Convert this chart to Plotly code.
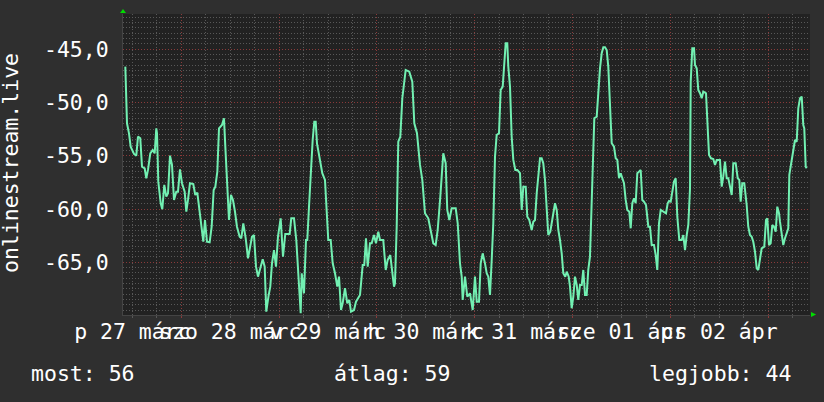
import plotly.graph_objects as go
import pandas as pd

# ---- data (hours after 2020-03-28 00:00, value) ----
hours_since_mar28 = [
    -13.73, -13.57, -13.32, -12.83, -12.42, -11.60, -11.04, -10.62, -10.06, -9.64,
    -8.98, -8.59, -8.17, -7.60, -7.02, -6.53, -6.13, -5.96, -5.64, -5.05,
    -4.66, -4.17, -3.68, -3.26, -2.77, -2.28, -1.79, -1.23, -0.81, -0.32,
    0.17, 0.83, 1.23, 1.64, 2.13, 2.94, 3.43, 3.93, 4.42, 4.91,
    5.40, 5.81, 6.30, 6.96, 7.45, 7.94, 8.35, 8.84, 9.25, 9.98,
    10.47, 10.80, 11.21, 11.70, 12.19, 12.68, 13.17, 13.66, 14.32, 14.72,
    15.21, 15.80, 16.36, 17.34, 17.83, 18.33, 18.82, 19.48, 19.97, 20.46,
    20.85, 21.44, 21.83, 22.25, 22.74, 23.23, 23.72, 24.38, 24.95, 25.51,
    26.59, 26.98, 27.65, 28.21, 28.71, 29.29, 29.54, 30.10, 30.59, 30.91,
    31.33, 31.82, 32.23, 32.63, 32.97, 33.29, 33.78, 34.20, 34.59, 35.25,
    36.06, 36.65, 37.14, 37.71, 38.27, 38.69, 39.18, 39.59, 40.16, 40.72,
    41.21, 41.63, 42.37, 42.86, 43.84, 44.50, 44.89, 45.31, 45.73, 46.29,
    46.71, 47.27, 47.76, 48.33, 48.75, 49.55, 50.15, 50.63, 51.27, 52.18,
    52.42, 52.84, 53.23, 53.73, 54.22, 55.05, 55.93, 56.67, 57.16, 57.82,
    58.56, 59.12, 59.78, 60.59, 61.18, 61.82, 62.41, 62.90, 63.54, 64.27,
    64.86, 65.25, 65.75, 66.33, 67.32, 67.81, 68.37, 68.79, 69.03, 69.60,
    70.16, 70.82, 71.49, 72.05, 72.47, 73.03, 73.45, 73.94, 74.50, 74.92,
    75.31, 75.73, 76.15, 76.54, 76.96, 77.37, 77.94, 78.35, 78.85, 79.24,
    79.58, 79.97, 80.22, 80.64, 81.05, 81.45, 81.94, 82.43, 83.09, 83.51,
    83.90, 84.49, 84.88, 85.37, 85.96, 86.35, 86.77, 87.19, 87.58, 88.00,
    88.41, 88.80, 89.22, 89.64, 90.03, 90.52, 90.87, 91.26, 91.68, 92.10,
    92.49, 92.90, 93.32, 93.71, 94.20, 94.55, 95.04, 95.36, 95.77, 96.17,
    96.58, 97.00, 97.39, 97.81, 98.23, 98.62, 99.04, 99.45, 99.84, 100.26,
    100.68, 101.07, 101.32, 101.91, 102.30, 102.72, 103.13, 103.53, 103.94, 104.36,
    104.75, 105.17, 105.59, 106.15, 106.57, 106.96, 107.38, 107.79, 108.19, 108.60,
    109.02, 109.41, 109.90, 110.25, 110.64, 111.06, 111.47, 111.87, 112.28, 112.70,
    113.09, 113.51, 114.00, 114.57, 114.98, 115.40, 115.96, 116.38, 116.77, 117.19,
    117.61, 118.49, 118.91, 119.32, 119.64, 120.06, 120.45, 120.87, 121.29, 121.68,
    122.17, 122.76, 123.15, 123.57, 123.99, 124.38, 124.80, 124.97, 125.36, 125.78,
    126.02, 126.44, 126.83, 127.25, 127.67, 128.06, 128.72, 129.14, 129.46, 129.95,
    130.51, 130.93, 131.35, 132.15, 132.57, 132.96, 133.38, 133.80, 134.19, 134.61,
    135.03, 135.42, 136.01, 136.50, 136.89, 137.23, 137.62, 138.11, 138.70, 139.09,
    139.51, 139.93, 140.32, 140.74, 141.16, 141.55, 141.97, 142.38, 143.02, 143.44,
    143.76, 144.17, 144.59, 144.98, 145.40, 145.82, 146.21, 146.63, 146.87, 147.29,
    147.68, 148.10, 148.52, 148.91, 149.16, 149.50, 149.74, 150.14, 150.55, 150.97,
    151.36, 151.78, 152.20, 152.59, 152.83, 153.18, 153.42,
]
values = [
    -46.63, -49.13, -51.95, -52.89, -54.14, -54.83, -54.99, -53.20, -53.36, -56.02,
    -56.18, -57.11, -56.33, -54.77, -54.46, -54.77, -52.42, -52.89, -57.43, -59.46,
    -60.02, -57.74, -58.84, -58.52, -54.99, -55.86, -59.15, -58.37, -58.37, -56.27,
    -57.58, -58.37, -60.25, -59.15, -57.58, -57.65, -58.68, -58.46, -60.09, -61.66,
    -63.07, -61.03, -63.07, -63.13, -61.66, -58.21, -57.90, -56.49, -52.42, -52.11,
    -51.48, -54.14, -57.58, -61.03, -58.68, -59.15, -60.25, -61.66, -62.60, -62.75,
    -61.34, -62.75, -64.63, -62.60, -62.44, -65.41, -66.35, -65.26, -64.72, -65.41,
    -69.64, -68.07, -67.29, -65.10, -63.85, -65.41, -62.60, -60.87, -64.47, -62.34,
    -62.34, -60.87, -60.87, -62.91, -66.03, -69.79, -66.03, -67.91, -62.91, -62.91,
    -59.78, -55.70, -53.52, -51.80, -51.80, -53.83, -54.77, -55.70, -56.64, -57.27,
    -62.91, -62.91, -65.10, -66.03, -67.29, -66.35, -69.48, -68.85, -67.44, -68.85,
    -68.54, -69.64, -69.48, -68.70, -68.07, -65.26, -65.26, -62.75, -65.41, -63.22,
    -63.22, -62.44, -63.22, -62.13, -62.91, -62.91, -65.72, -64.78, -64.32, -67.29,
    -66.97, -61.66, -53.68, -53.21, -49.60, -46.94, -47.10, -48.04, -51.95, -52.89,
    -55.86, -57.27, -60.40, -60.87, -61.97, -63.22, -63.38, -61.97, -58.84, -54.77,
    -55.70, -60.09, -61.03, -59.93, -59.93, -61.34, -65.10, -66.35, -68.54, -66.35,
    -68.23, -67.91, -69.48, -66.35, -68.70, -68.70, -65.10, -64.16, -65.10, -66.03,
    -66.35, -68.07, -64.78, -61.34, -55.08, -53.05, -52.89, -48.82, -48.51, -46.31,
    -44.44, -44.44, -46.63, -48.51, -53.21, -55.39, -56.33, -56.33, -56.64, -60.09,
    -57.90, -57.90, -60.72, -61.03, -61.97, -61.19, -61.03, -58.52, -56.64, -55.24,
    -55.24, -55.70, -57.27, -59.78, -62.44, -62.13, -61.34, -60.09, -59.46, -60.09,
    -61.97, -62.91, -64.16, -66.03, -66.35, -65.88, -66.35, -67.29, -69.32, -68.23,
    -66.35, -67.13, -68.54, -67.13, -67.13, -65.72, -68.07, -68.07, -65.72, -64.47,
    -59.62, -54.77, -51.48, -51.33, -48.51, -46.78, -45.38, -44.81, -44.81, -45.07,
    -46.63, -51.01, -53.83, -54.15, -55.24, -55.39, -57.11, -56.64, -57.11, -57.58,
    -59.15, -60.09, -60.25, -61.81, -59.46, -58.99, -59.46, -56.64, -56.49, -56.33,
    -59.15, -59.31, -59.62, -61.66, -61.66, -63.38, -63.38, -64.32, -65.72, -61.34,
    -60.09, -60.25, -60.40, -59.46, -59.25, -59.31, -58.21, -57.43, -57.11, -60.72,
    -62.91, -62.91, -62.44, -63.85, -62.44, -61.50, -58.05, -48.04, -44.91, -44.91,
    -46.47, -46.78, -48.82, -49.13, -49.60, -48.98, -49.13, -53.21, -54.93, -55.24,
    -55.30, -55.86, -55.39, -55.39, -57.90, -56.96, -55.55, -57.11, -57.11, -57.90,
    -58.68, -55.70, -55.70, -57.11, -57.27, -59.31, -57.58, -57.58, -59.62, -61.66,
    -62.44, -62.60, -63.07, -64.01, -65.56, -65.72, -64.63, -63.69, -63.53, -61.03,
    -60.87, -63.38, -63.22, -61.50, -61.66, -62.13, -59.78, -60.40, -61.19, -62.44,
    -63.38, -62.75, -62.13, -61.81, -56.80, -56.02, -55.39, -54.46, -53.52, -53.68,
    -50.54, -49.60, -49.45, -52.11, -52.42, -56.02, -56.18,
]

day_label_times = ["2020-03-27 12:00", "2020-03-28 12:00", "2020-03-29 12:00",
                   "2020-03-30 12:00", "2020-03-31 12:00", "2020-04-01 12:00",
                   "2020-04-02 12:00"]
day_labels = ["p 27 márc", "szo 28 márc", "v 29 márc", "h 30 márc",
              "k 31 márc", "sze 01 ápr", "cs 02 ápr"]
y_tick_values = [-65, -60, -55, -50, -45]
y_tick_labels = ["-65,0", "-60,0", "-55,0", "-50,0", "-45,0"]
x_range = ["2020-03-27 09:42", "2020-04-03 10:14"]
y_range = [-69.95, -41.69]
axis_title = "onlinestream.live"
legend_now = "most: 56"
legend_avg = "átlag: 59"
legend_max = "legjobb: 44"

base = pd.Timestamp("2020-03-28 00:00")
times = [base + pd.Timedelta(hours=h) for h in hours_since_mar28]

FONT = "DejaVu Sans Mono"
FS = 21.5
WHITE = "#ffffff"
MINOR = "#585858"
MAJOR = "#8a3a3a"
DOT = "1px,2px"

fig = go.Figure()
fig.add_trace(go.Scatter(x=times, y=values, mode="lines",
                         line=dict(color="#72f0b2", width=2),
                         hoverinfo="skip", showlegend=False))
# helper trace to bind the grid axis
fig.add_trace(go.Scatter(x=[times[0]], y=[None], xaxis="x2", mode="lines",
                         hoverinfo="skip", showlegend=False))

fig.update_layout(
    width=824, height=402,
    margin=dict(l=123, r=14, t=14, b=87),
    paper_bgcolor="#2f2f2f", plot_bgcolor="#222222",
    font=dict(family=FONT, size=FS, color=WHITE),
    showlegend=False,
    xaxis=dict(
        type="date", range=x_range, tickmode="array",
        tickvals=day_label_times, ticktext=day_labels, tickangle=0,
        showgrid=False, zeroline=False, ticks="", ticklabelstandoff=-3,
        tickfont=dict(family=FONT, size=FS, color=WHITE),
        showline=True, linecolor="#444444", linewidth=1,
        minor=dict(tick0="2020-03-28", dtick=21600000, showgrid=True,
                   gridcolor=MINOR, griddash=DOT, gridwidth=1,
                   ticks="outside", ticklen=2, tickcolor=MINOR),
    ),
    xaxis2=dict(
        type="date", range=x_range, overlaying="x", side="bottom",
        tick0="2020-03-28", dtick=86400000, showticklabels=False,
        showgrid=True, gridcolor=MAJOR, griddash=DOT, gridwidth=1,
        ticks="outside", ticklen=2, tickcolor=MAJOR, zeroline=False,
    ),
    yaxis=dict(
        range=y_range, tickmode="array", tickvals=y_tick_values,
        ticktext=y_tick_labels, showgrid=True, gridcolor=MAJOR,
        griddash=DOT, gridwidth=1, zeroline=False, ticks="",
        ticklabelstandoff=9,
        tickfont=dict(family=FONT, size=FS, color=WHITE),
        showline=True, linecolor="#444444", linewidth=1,
        minor=dict(tick0=0, dtick=0.5, showgrid=True, gridcolor=MINOR,
                   griddash=DOT, gridwidth=1),
    ),
    annotations=[
        dict(text=axis_title, textangle=-90, xref="paper", yref="paper",
             x=-0.1630, y=0.505, xanchor="center", yanchor="middle",
             showarrow=False, borderpad=0,
             font=dict(family=FONT, size=FS, color=WHITE)),
        dict(text=legend_now, xref="paper", yref="paper", x=-0.1368, y=-0.196,
             xanchor="left", yanchor="middle", showarrow=False,
             font=dict(family=FONT, size=FS, color=WHITE)),
        dict(text=legend_avg, xref="paper", yref="paper", x=0.3916, y=-0.196,
             xanchor="center", yanchor="middle", showarrow=False,
             font=dict(family=FONT, size=FS, color=WHITE)),
        dict(text=legend_max, xref="paper", yref="paper", x=0.9753, y=-0.196,
             xanchor="right", yanchor="middle", showarrow=False,
             font=dict(family=FONT, size=FS, color=WHITE)),
    ],
    shapes=[
        dict(type="path", xref="paper", yref="paper", layer="above",
             path="M -0.0044 1.0033 L 0.0044 1.0033 L 0 1.0166 Z",
             fillcolor="#00dd00", line=dict(width=0)),
        dict(type="path", xref="paper", yref="paper", layer="above",
             path="M 1.0015 -0.0066 L 1.0015 0.0100 L 1.0088 0.0017 Z",
             fillcolor="#00dd00", line=dict(width=0)),
    ],
)

# remove the browser's default page margin so the figure sits at (0, 0)
fig.write_html(
    "out.html",
    config={"displayModeBar": False},
    post_script="document.body.style.margin='0';"
                "document.body.style.background='#2f2f2f';",
)
